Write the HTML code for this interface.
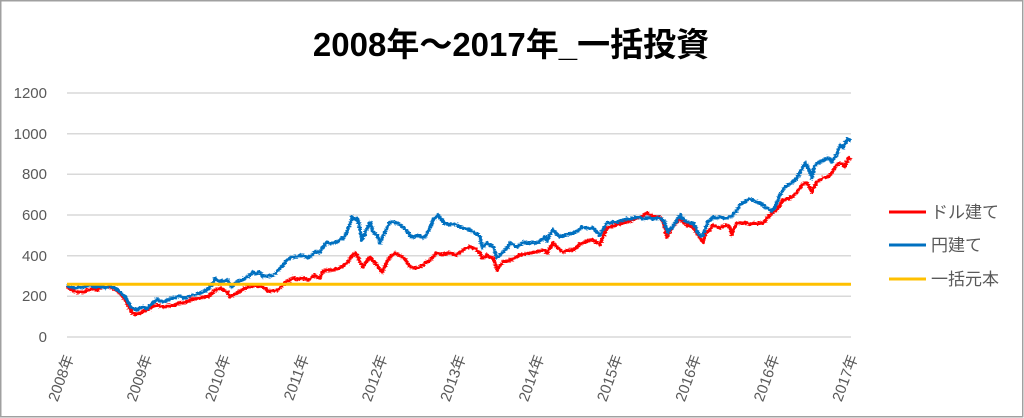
<!DOCTYPE html>
<html><head><meta charset="utf-8"><style>
html,body{margin:0;padding:0;background:#fff;}
svg{display:block;}
</style></head><body>
<svg width="1024" height="418" viewBox="0 0 1024 418" xmlns="http://www.w3.org/2000/svg">
<defs>
<filter id="rough" x="-5%" y="-20%" width="110%" height="140%">
<feTurbulence type="fractalNoise" baseFrequency="0.35 0.9" numOctaves="2" seed="3" result="n"/>
<feDisplacementMap in="SourceGraphic" in2="n" scale="4" xChannelSelector="R" yChannelSelector="G"/>
</filter>
</defs>
<rect x="0" y="0" width="1024" height="418" fill="#fff"/>
<rect x="0.75" y="0.75" width="1022" height="416" fill="none" stroke="#a0a0a0" stroke-width="1.5"/>
<text x="511" y="56" text-anchor="middle" font-family="'Liberation Sans','Noto Sans CJK JP',sans-serif" font-weight="bold" font-size="33" fill="#000">2008年～2017年_一括投資</text>
<g stroke="#d9d9d9" stroke-width="1.5">
<line x1="67" x2="851" y1="93" y2="93"/>
<line x1="67" x2="851" y1="133.7" y2="133.7"/>
<line x1="67" x2="851" y1="174.3" y2="174.3"/>
<line x1="67" x2="851" y1="215" y2="215"/>
<line x1="67" x2="851" y1="255.7" y2="255.7"/>
<line x1="67" x2="851" y1="296.3" y2="296.3"/>
<line x1="67" x2="851" y1="337" y2="337"/>
</g>
<g font-family="'Liberation Sans',sans-serif" font-size="15" fill="#595959" text-anchor="end">
<text x="47" y="98">1200</text>
<text x="47" y="139">1000</text>
<text x="47" y="179">800</text>
<text x="47" y="220">600</text>
<text x="47" y="261">400</text>
<text x="47" y="301">200</text>
<text x="47" y="342">0</text>
</g>
<g font-family="'Liberation Sans','Noto Sans CJK JP',sans-serif" font-size="15" fill="#595959" text-anchor="end">
<text transform="translate(74,357) rotate(-70)">2008年</text>
<text transform="translate(152.4,357) rotate(-70)">2009年</text>
<text transform="translate(230.8,357) rotate(-70)">2010年</text>
<text transform="translate(309.2,357) rotate(-70)">2011年</text>
<text transform="translate(387.6,357) rotate(-70)">2012年</text>
<text transform="translate(466,357) rotate(-70)">2013年</text>
<text transform="translate(544.4,357) rotate(-70)">2014年</text>
<text transform="translate(622.8,357) rotate(-70)">2015年</text>
<text transform="translate(701.2,357) rotate(-70)">2016年</text>
<text transform="translate(779.6,357) rotate(-70)">2016年</text>
<text transform="translate(858,357) rotate(-70)">2017年</text>
</g>
<g filter="url(#rough)">
<polyline fill="none" stroke="#ff0000" stroke-width="3.4" stroke-linejoin="round" points="67,287 72,290 77,292 83,292 88,290 93,289 97,290 100,288 105,287 110,287 115,289 120,293 124,298 127,303 130,309 132,313 135,314 137,314 141,313 144,311 147,310 150,308 154,306 157,305 160,306 164,307 167,306 170,306 174,305 177,304 180,303 183,303 187,302 190,300 193,299 197,299 200,298 204,297 207,297 210,295 213,292 216,290 218,289 220,288 223,290 227,292 229,295 230,297 233,295 237,293 240,291 244,289 247,287 250,286 254,286 257,286 260,286 263,287 266,289 268,291 272,291 277,290 280,288 282,286 285,283 287,281 290,280 293,278 296,279 300,279 303,278 306,279 308,280 311,278 315,275 318,278 320,278 323,271 327,270 330,270 333,270 337,269 340,268 344,265 348,262 351,257 355,253 358,257 360,262 363,267 366,262 370,257 373,261 377,265 380,270 382,272 385,266 388,260 391,256 395,253 399,255 403,257 407,262 410,267 413,268 417,268 420,267 423,265 427,262 430,260 433,257 437,253 440,254 443,255 447,253 450,253 453,254 457,255 460,252 463,250 467,248 470,247 473,248 477,250 480,253 482,258 485,257 487,255 490,257 493,258 495,263 497,270 500,266 503,262 507,261 510,260 515,258 520,255 525,254 530,253 535,252 540,251 544,250 547,253 550,248 553,243 557,247 560,250 563,252 567,251 570,250 573,250 577,247 580,244 583,243 587,241 590,240 593,240 597,243 600,245 603,237 607,228 610,227 613,226 617,225 620,224 623,223 627,222 630,221 633,220 637,218 640,217 644,215 647,213 650,215 653,217 657,217 660,217 663,222 665,228 667,237 670,231 672,228 675,224 678,220 680,218 683,222 687,225 690,226 693,227 697,233 700,238 703,242 705,236 707,232 710,230 713,225 717,227 720,228 724,226 727,225 730,228 732,235 734,229 737,223 740,223 744,223 747,223 750,224 754,223 757,224 760,223 763,223 767,218 770,215 772,213 775,211 777,210 780,205 783,200 787,199 790,198 793,196 797,192 800,188 802,185 805,183 807,183 810,188 812,192 814,187 817,182 820,180 823,178 827,177 830,175 833,171 835,167 838,164 840,163 843,165 845,167 847,161 848,158 851,160"/>
<polyline fill="none" stroke="#0070c0" stroke-width="3.4" stroke-linejoin="round" points="67,286 75,288 83,287 90,285 95,287 100,286 105,288 110,286 115,288 120,292 124,296 127,300 130,305 132,308 137,310 140,308 143,307 147,309 150,305 154,302 157,299 160,301 163,302 167,300 170,299 174,298 177,297 180,296 183,298 187,297 190,296 193,295 197,294 200,293 203,292 207,290 210,287 213,284 215,278 217,280 220,282 223,281 227,280 230,284 232,287 234,284 237,282 240,281 244,279 247,277 250,275 253,272 256,274 260,272 263,277 266,276 270,276 273,275 276,273 280,268 283,265 287,260 290,258 293,257 297,257 300,255 304,256 308,258 312,255 315,252 320,252 323,247 327,242 330,244 333,243 337,242 340,240 344,237 347,232 350,224 352,217 355,219 357,218 359,224 360,230 362,240 365,233 368,226 370,222 372,228 373,232 377,235 380,243 383,236 387,228 390,222 393,222 397,223 400,225 403,227 406,230 408,233 411,236 413,238 416,236 418,235 421,237 423,238 426,235 428,232 431,226 433,220 436,217 438,215 441,219 443,222 447,224 450,225 453,224 457,225 460,227 463,228 467,229 470,230 473,232 475,233 478,235 480,237 482,248 485,245 487,243 490,245 493,247 495,252 497,258 500,255 503,252 507,248 510,243 514,245 517,247 520,245 523,242 527,243 530,243 534,243 537,243 540,241 545,237 547,241 550,234 553,230 557,234 560,237 565,235 570,234 573,233 577,231 580,229 583,227 587,228 590,228 593,228 597,232 600,235 603,229 607,223 610,223 613,222 617,222 620,221 623,220 627,219 630,219 633,218 637,217 640,217 643,219 647,218 650,218 653,219 657,218 660,218 663,220 665,223 668,233 670,229 672,228 675,223 678,218 680,215 683,219 687,222 690,223 693,223 696,228 698,233 701,236 703,235 705,229 708,222 711,219 713,217 717,218 720,217 724,218 727,218 730,217 733,215 737,210 740,205 743,203 747,200 750,199 753,200 757,202 760,203 763,205 767,208 770,210 772,211 775,207 778,200 780,195 783,190 785,187 788,185 790,184 793,182 797,178 800,172 803,167 805,163 807,165 808,168 810,172 812,178 813,172 815,165 818,163 820,162 824,160 827,158 830,159 832,162 835,157 837,153 839,148 840,145 842,147 843,148 845,143 848,139 851,140"/>
</g>
<line x1="67" x2="851" y1="284.3" y2="284.3" stroke="#ffc000" stroke-width="3"/>
<g stroke-width="3">
<line x1="889" x2="926" y1="212" y2="212" stroke="#ff0000"/>
<line x1="889" x2="926" y1="245" y2="245" stroke="#0070c0"/>
<line x1="889" x2="926" y1="279" y2="279" stroke="#ffc000"/>
</g>
<g font-family="'Liberation Sans','Noto Sans CJK JP',sans-serif" font-size="17" fill="#595959">
<text x="931" y="218">ドル建て</text>
<text x="931" y="251">円建て</text>
<text x="931" y="285">一括元本</text>
</g>
</svg>
</body></html>
